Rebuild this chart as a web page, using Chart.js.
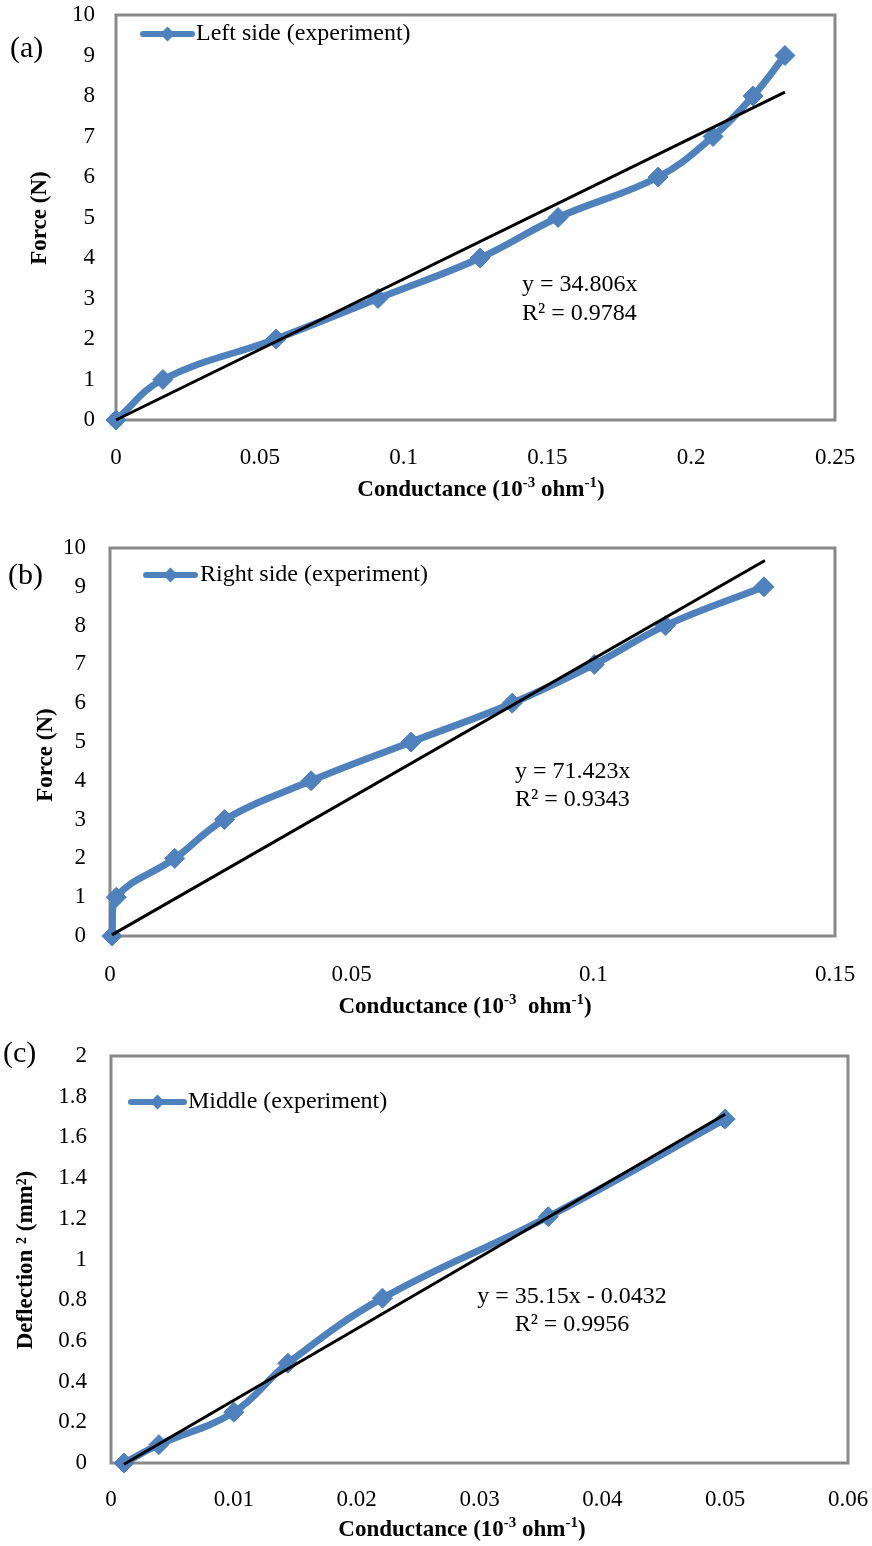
<!DOCTYPE html>
<html>
<head>
<meta charset="utf-8">
<script src="https://cdn.jsdelivr.net/npm/chart.js@4/dist/chart.umd.min.js"></script>
<style>
html, body { margin: 0; padding: 0; background: #fff; }
#wrap { position: relative; width: 872px; height: 1546px; background: #fff; }
canvas { position: absolute; left: 0; }
</style>
</head>
<body>
<div id="wrap">
  <canvas id="ca" width="872" height="510" style="top:0px"></canvas>
  <canvas id="cb" width="872" height="520" style="top:510px"></canvas>
  <canvas id="cc" width="872" height="516" style="top:1030px"></canvas>
</div>
<script>
// ---------------- DATA ----------------
// (a) Left side
const leftConductance = [0, 0.0163, 0.0556, 0.0911, 0.1266, 0.1537, 0.1885, 0.2076, 0.2215, 0.2326];
const leftForce       = [0, 1, 2, 3, 4, 5, 6, 7, 8, 9];
const leftTrendX      = [0, 0.2326];
const leftTrendY      = [0, 8.096];
const leftXTicks      = [0, 0.05, 0.1, 0.15, 0.2, 0.25];
const leftXTickLabels = ['0', '0.05', '0.1', '0.15', '0.2', '0.25'];
const leftYTicks      = [0, 1, 2, 3, 4, 5, 6, 7, 8, 9, 10];
const leftYTickLabels = ['0', '1', '2', '3', '4', '5', '6', '7', '8', '9', '10'];

// (b) Right side
const rightConductance = [0.0004, 0.0013, 0.0134, 0.0237, 0.0416, 0.0623, 0.0832, 0.1002, 0.1149, 0.1353];
const rightForce       = [0, 1, 2, 3, 4, 5, 6, 7, 8, 9];
const rightTrendX      = [0.0004, 0.1355];
const rightTrendY      = [0.029, 9.678];
const rightXTicks      = [0, 0.05, 0.1, 0.15];
const rightXTickLabels = ['0', '0.05', '0.1', '0.15'];
const rightYTicks      = [0, 1, 2, 3, 4, 5, 6, 7, 8, 9, 10];
const rightYTickLabels = ['0', '1', '2', '3', '4', '5', '6', '7', '8', '9', '10'];

// (c) Middle
const midConductance = [0.00106, 0.0039, 0.0100, 0.0144, 0.0221, 0.0356, 0.0500];
const midDeflection2 = [0, 0.09, 0.25, 0.49, 0.81, 1.21, 1.69];
const midTrendX      = [0.00106, 0.0500];
const midTrendY      = [-0.006, 1.714];
const midXTicks      = [0, 0.01, 0.02, 0.03, 0.04, 0.05, 0.06];
const midXTickLabels = ['0', '0.01', '0.02', '0.03', '0.04', '0.05', '0.06'];
const midYTicks      = [0, 0.2, 0.4, 0.6, 0.8, 1, 1.2, 1.4, 1.6, 1.8, 2];
const midYTickLabels = ['0', '0.2', '0.4', '0.6', '0.8', '1', '1.2', '1.4', '1.6', '1.8', '2'];

// ---------------- STYLE ----------------
const BLUE = '#4F81BD';
const SERIF = '"Liberation Serif", "Times New Roman", serif';

function drawRich(c, parts, cx, cy) {
  const base = 'bold 23px ' + SERIF, sup = 'bold 15px ' + SERIF;
  let w = 0;
  parts.forEach(p => { c.font = p.sup ? sup : base; w += c.measureText(p.t).width; });
  let x = cx - w / 2;
  c.textAlign = 'left';
  parts.forEach(p => {
    c.font = p.sup ? sup : base;
    c.fillText(p.t, x, p.sup ? cy - 7 : cy);
    x += c.measureText(p.t).width;
  });
}

function annotPlugin(p) {
  return {
    id: 'annot_' + p.id,
    beforeDatasetsDraw(chart) {
      const a = chart.chartArea, c = chart.ctx;
      c.save();
      c.strokeStyle = '#898989';
      c.lineWidth = 3;
      c.strokeRect(a.left, a.top, a.right - a.left, a.bottom - a.top);
      c.restore();
    },
    afterDraw(chart) {
      const c = chart.ctx;
      c.save();
      c.fillStyle = '#000';
      c.textBaseline = 'middle';
      // panel label
      c.textAlign = 'left';
      c.font = '30px ' + SERIF;
      c.fillText(p.panel, p.panelX, p.panelY);
      // legend
      c.strokeStyle = BLUE;
      c.lineWidth = 6;
      c.lineCap = 'round';
      c.beginPath();
      c.moveTo(p.legX0, p.legY);
      c.lineTo(p.legX1, p.legY);
      c.stroke();
      const mx = (p.legX0 + p.legX1) / 2, r = 7.5;
      c.fillStyle = BLUE;
      c.beginPath();
      c.moveTo(mx - r, p.legY); c.lineTo(mx, p.legY - r);
      c.lineTo(mx + r, p.legY); c.lineTo(mx, p.legY + r);
      c.closePath(); c.fill();
      c.fillStyle = '#000';
      c.font = '24px ' + SERIF;
      c.fillText(p.legend, p.legTextX, p.legY);
      // equation
      c.textAlign = p.eqAlign;
      p.eq.forEach((t, i) => c.fillText(t, p.eqX, p.eqY[i]));
      // x axis title with superscripts
      drawRich(c, p.xTitle, p.xTitleX, p.xTitleY);
      // y axis title (rotated)
      c.save();
      c.translate(p.yTitleX, p.yTitleY);
      c.rotate(-Math.PI / 2);
      c.textAlign = 'center';
      c.font = 'bold 23px ' + SERIF;
      c.fillText(p.yTitle, 0, 0);
      c.restore();
      c.restore();
    }
  };
}

function build(p) {
  const pts = p.x.map((v, i) => ({ x: v, y: p.y[i] }));
  const tr = p.tx.map((v, i) => ({ x: v, y: p.ty[i] }));
  return new Chart(document.getElementById(p.id), {
    type: 'line',
    data: {
      datasets: [
        { label: 'Linear fit', data: tr, borderColor: '#000', borderWidth: 3,
          pointRadius: 0, tension: 0, order: 0, clip: false },
        { label: p.legend, data: pts, borderColor: BLUE, backgroundColor: BLUE,
          borderWidth: 7, pointStyle: 'rectRot', pointRadius: 10, pointBorderWidth: 1,
          pointBorderColor: BLUE, pointBackgroundColor: BLUE, tension: 0.4, order: 1, clip: false }
      ]
    },
    options: {
      responsive: false, animation: false, devicePixelRatio: 1,
      layout: { autoPadding: false, padding: { top: p.top, right: 872 - p.right, left: 0, bottom: 0 } },
      plugins: { legend: { display: false }, tooltip: { enabled: false } },
      scales: {
        x: {
          type: 'linear', min: p.xTicks[0], max: p.xTicks[p.xTicks.length - 1],
          grid: { display: false, drawTicks: false }, border: { display: false },
          afterBuildTicks: s => { s.ticks = p.xTicks.map(v => ({ value: v })); },
          afterFit: s => { s.height = p.H - p.bottom; s.paddingLeft = 0; s.paddingRight = 0; },
          ticks: { autoSkip: false, maxRotation: 0, padding: p.xTickPad, color: '#000',
                   font: { family: SERIF, size: 23 }, callback: (v, i) => p.xLabels[i] },
          title: { display: false }
        },
        y: {
          type: 'linear', min: p.yTicks[0], max: p.yTicks[p.yTicks.length - 1],
          grid: { display: false, drawTicks: false }, border: { display: false },
          afterBuildTicks: s => { s.ticks = p.yTicks.map(v => ({ value: v })); },
          afterFit: s => { s.width = p.left; s.paddingTop = 0; s.paddingBottom = 0; },
          ticks: { autoSkip: false, padding: p.yTickPad, color: '#000',
                   font: { family: SERIF, size: 23 }, callback: (v, i) => p.yLabels[i] },
          title: { display: false }
        }
      }
    },
    plugins: [annotPlugin(p)]
  });
}

const condTitle = [
  { t: 'Conductance (10' }, { t: '-3', sup: true }, { t: ' ohm' }, { t: '-1', sup: true }, { t: ')' }
];
const condTitleB = [
  { t: 'Conductance (10' }, { t: '-3', sup: true }, { t: '  ohm' }, { t: '-1', sup: true }, { t: ')' }
];

build({
  id: 'ca', H: 510, top: 15, bottom: 420, left: 116, right: 835,
  x: leftConductance, y: leftForce, tx: leftTrendX, ty: leftTrendY,
  xTicks: leftXTicks, xLabels: leftXTickLabels, yTicks: leftYTicks, yLabels: leftYTickLabels,
  xTitle: condTitle, xTitleX: 481, xTitleY: 490,
  yTitle: 'Force (N)', yTitleX: 40, yTitleY: 218,
  xTickPad: 24, yTickPad: 21,
  panel: '(a)', panelX: 10, panelY: 49,
  legend: 'Left side (experiment)', legX0: 143, legX1: 192, legY: 34, legTextX: 196,
  eq: ['y = 34.806x', 'R\u00B2 = 0.9784'], eqAlign: 'left', eqX: 522, eqY: [285, 314]
});

build({
  id: 'cb', H: 520, top: 38, bottom: 426, left: 110, right: 835,
  x: rightConductance, y: rightForce, tx: rightTrendX, ty: rightTrendY,
  xTicks: rightXTicks, xLabels: rightXTickLabels, yTicks: rightYTicks, yLabels: rightYTickLabels,
  xTitle: condTitleB, xTitleX: 465, xTitleY: 497,
  yTitle: 'Force (N)', yTitleX: 46, yTitleY: 245,
  xTickPad: 25, yTickPad: 24,
  panel: '(b)', panelX: 8, panelY: 66,
  legend: 'Right side (experiment)', legX0: 146, legX1: 195, legY: 65, legTextX: 200,
  eq: ['y = 71.423x', 'R\u00B2 = 0.9343'], eqAlign: 'left', eqX: 515, eqY: [262, 290]
});

build({
  id: 'cc', H: 516, top: 26, bottom: 433, left: 111, right: 848,
  x: midConductance, y: midDeflection2, tx: midTrendX, ty: midTrendY,
  xTicks: midXTicks, xLabels: midXTickLabels, yTicks: midYTicks, yLabels: midYTickLabels,
  xTitle: condTitle, xTitleX: 462, xTitleY: 500,
  yTitle: 'Deflection \u00B2 (mm\u00B2)', yTitleX: 26, yTitleY: 230,
  xTickPad: 23, yTickPad: 24,
  panel: '(c)', panelX: 3, panelY: 24,
  legend: 'Middle (experiment)', legX0: 131, legX1: 184, legY: 72, legTextX: 188,
  eq: ['y = 35.15x - 0.0432', 'R\u00B2 = 0.9956'], eqAlign: 'center', eqX: 572, eqY: [267, 295]
});
</script>
</body>
</html>
